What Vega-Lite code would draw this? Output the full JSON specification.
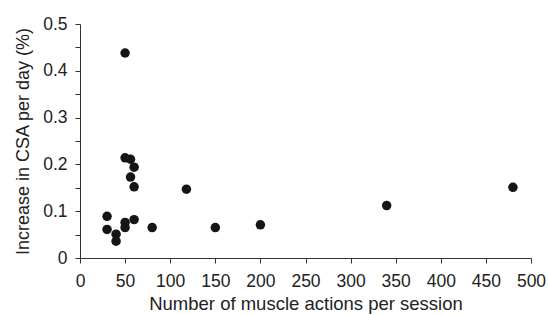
{
  "$schema": "https://vega.github.io/schema/vega-lite/v6.json",
  "width": 451,
  "height": 234,
  "autosize": "none",
  "padding": {"left": 80, "top": 24, "right": 17, "bottom": 57},
  "background": "white",
  "data": {"values": [
    {"actions": 50, "increase": 0.438},
    {"actions": 50, "increase": 0.214},
    {"actions": 56, "increase": 0.211},
    {"actions": 60, "increase": 0.194},
    {"actions": 56, "increase": 0.173},
    {"actions": 60, "increase": 0.152},
    {"actions": 118, "increase": 0.147},
    {"actions": 30, "increase": 0.089},
    {"actions": 30, "increase": 0.061},
    {"actions": 40, "increase": 0.051},
    {"actions": 40, "increase": 0.036},
    {"actions": 50, "increase": 0.076},
    {"actions": 50, "increase": 0.065},
    {"actions": 60, "increase": 0.082},
    {"actions": 80, "increase": 0.065},
    {"actions": 150, "increase": 0.065},
    {"actions": 200, "increase": 0.071},
    {"actions": 340, "increase": 0.112},
    {"actions": 480, "increase": 0.151}
  ]},
  "mark": {"type": "circle", "size": 90, "opacity": 1, "color": "#151515"},
  "encoding": {
    "x": {
      "field": "actions", "type": "quantitative",
      "scale": {"domain": [0, 500], "nice": false, "zero": true},
      "axis": {
        "title": "Number of muscle actions per session",
        "values": [0, 50, 100, 150, 200, 250, 300, 350, 400, 450, 500],
        "labelFlush": false, "labelOverlap": false,
        "grid": false, "domainColor": "#333", "tickColor": "#333", "tickSize": 5,
        "labelFont": "Liberation Sans", "labelFontSize": 17.5, "labelColor": "#222", "labelPadding": 9,
        "titleFont": "Liberation Sans", "titleFontSize": 18.5, "titleFontWeight": "normal", "titleColor": "#222", "titlePadding": 5
      }
    },
    "y": {
      "field": "increase", "type": "quantitative",
      "scale": {"domain": [0, 0.5], "nice": false},
      "axis": {
        "title": "Increase in CSA per day (%)",
        "values": [0, 0.05, 0.1, 0.15, 0.2, 0.25, 0.3, 0.35, 0.4, 0.45, 0.5],
        "labelExpr": "round(datum.value*100) % 10 == 0 ? format(datum.value, '.1~f') : ''",
        "labelFlush": false, "labelOverlap": false,
        "grid": false, "domainColor": "#333", "tickColor": "#333", "tickSize": 5,
        "labelFont": "Liberation Sans", "labelFontSize": 17.5, "labelColor": "#222", "labelPadding": 8,
        "titleFont": "Liberation Sans", "titleFontSize": 18, "titleFontWeight": "normal", "titleColor": "#222", "titlePadding": 10
      }
    }
  },
  "config": {"view": {"stroke": null}}
}
